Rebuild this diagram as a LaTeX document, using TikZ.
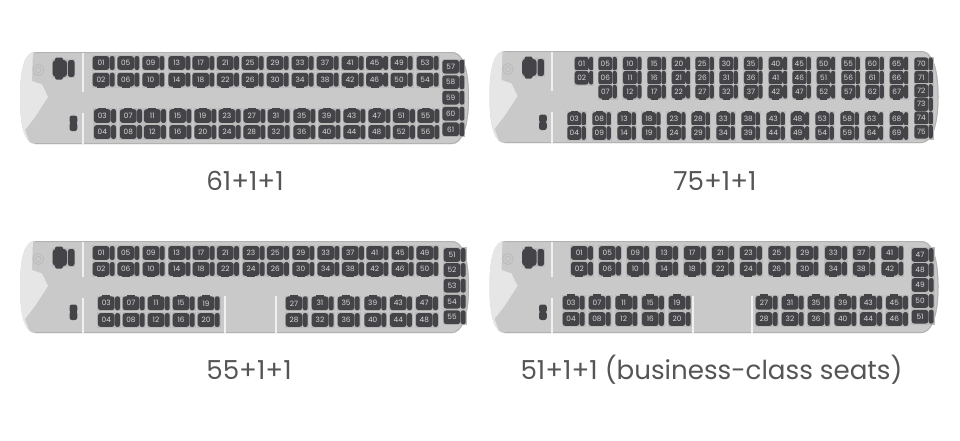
\documentclass[tikz,border=0pt]{standalone}
\usepackage{fontspec}
\setmainfont{Poppins}
\newfontfamily\capfont{Poppins}
\definecolor{bodygrey}{HTML}{C9C9C9}
\definecolor{edgegrey}{HTML}{B2B2B2}
\definecolor{frontgrey}{HTML}{E6E6E6}
\definecolor{tilegrey}{HTML}{BBBBBB}
\definecolor{seatdark}{HTML}{444448}
\definecolor{wallwhite}{HTML}{F0F0F0}
\definecolor{captext}{HTML}{555555}
\tikzset{
  x=0.75pt,y=-0.75pt,
  seatbox/.style={fill=seatdark,rounded corners=2.2pt,text=white!85!black,inner sep=0pt,
    font=\fontsize{5.5}{5.5}\selectfont,minimum width=\seatw*0.79pt,minimum height=10.4pt},
  seatback/.style={fill=seatdark,rounded corners=1.7pt},
  seattile/.style={fill=tilegrey},
  partition/.style={draw=wallwhite,line width=1.5pt},
  caption/.style={font=\capfont\fontsize{19.6}{23}\selectfont,text=captext,inner sep=0pt},
}
\newcommand{\seatw}{16}
\newcommand{\backoff}{8.7}
\newcommand{\backw}{5}
% one seat: node name, x, y, label, bump direction (-1 up, 1 down, 0 none)
\newcommand{\oneseat}[5]{%
  \fill[seattile] ({#2-\seatw/2-1},{#3-7.8}) rectangle ({#2+\backoff+\backw+0.8},{#3+7.8});
  \fill[seatback] ({#2+\backoff},{#3-7}) rectangle ({#2+\backoff+\backw},{#3+7});
  \ifnum#5=0\else
    \fill[seatdark] ({#2-\seatw/4},{#3}) rectangle ({#2+\seatw/4},{#3+#5*8.4});
  \fi
  \node[seatbox] (#1) at (#2,#3) {#4};
}
\newcommand{\seatrow}[4]{% prefix, y, bump, list x/label
  \foreach \sx/\sn in {#4} {\oneseat{#1\sn}{\sx}{#2}{\sn}{#3}}
}
\newcommand{\rearcol}[3]{% prefix, x, list y/label
  \foreach \sy/\sn in {#3} {\oneseat{#1\sn}{#2}{\sy}{\sn}{0}}
}
% bus body, drawn in the coordinates of the first bus, shifted
\newcommand{\busbody}[2]{%
\begin{scope}[shift={(#1,#2)}]
  \path[fill=bodygrey] (35,52) -- (452,52) .. controls (462,52) and (469,66) .. (469,98)
     .. controls (469,128) and (462,144) .. (452,144) -- (35,144)
     .. controls (26,144) and (20,130) .. (20,98) .. controls (20,68) and (25,52) .. (35,52) -- cycle;
  \begin{scope}
    \clip (35,52) -- (452,52) .. controls (462,52) and (469,66) .. (469,98)
     .. controls (469,128) and (462,144) .. (452,144) -- (35,144)
     .. controls (26,144) and (20,130) .. (20,98) .. controls (20,68) and (25,52) .. (35,52) -- cycle;
    \fill[frontgrey] (10,50) -- (33,50) -- (32,81) -- (42,84.5) -- (48,97) -- (35,117) -- (25,130) -- (31,146) -- (10,146) -- cycle;
    \draw[edgegrey,line width=1.5pt] (35,52) -- (452,52) .. controls (462,52) and (469,66) .. (469,98)
     .. controls (469,128) and (462,144) .. (452,144) -- (35,144);
  \end{scope}
  \draw[bodygrey!90!black,line width=0.4pt] (38.3,70) circle[radius=5.5];
  \draw[bodygrey!90!black,line width=0.3pt] (38.3,70) circle[radius=2.8];
  \fill[tilegrey] (52,59) rectangle (75,78);
  \fill[seatdark,rounded corners=2.4pt] (52.7,60) rectangle (67,77);
  \fill[seatdark,rounded corners=1pt] (55,57.5) rectangle (63,79.5);
  \fill[seatback] (68,60) rectangle (74.5,77);
  \fill[seatdark,rounded corners=1.8pt] (69.5,115.5) rectangle (77.3,123.5);
  \fill[seatdark,rounded corners=1.8pt] (69.5,122.5) rectangle (77.3,131);
  \fill[seatdark] (70.2,118) rectangle (76.6,128);
\end{scope}}
\begin{document}
\begin{tikzpicture}
\useasboundingbox[fill=white] (0,0) rectangle (960,440);

% ---------- bus 1 : 61+1+1
\busbody{0}{0}
\draw[partition] (82.7,52.5) -- (82.7,92);
\draw[partition] (82.7,113) -- (82.7,143.5);
\seatrow{a}{63}{0}{101/01,125.7/05,150.7/09,176.7/13,200.7/17,225.3/21,250/25,275/29,300/33,325/37,350/41,374.5/45,399/49,425/53}
\seatrow{a}{79.7}{1}{101/02,125.7/06,150.7/10,176.7/14,200.7/18,225.3/22,250/26,275/30,300/34,325/38,350/42,374.5/46,399/50,425/54}
\seatrow{a}{116}{-1}{102.3/03,128.3/07,152.3/11,177.7/15,202.7/19,227/23,251.7/27,276/31,301.7/35,326.7/39,351.7/43,376.7/47,401.3/51,425.7/55}
\seatrow{a}{132}{0}{102.3/04,128.3/08,152.3/12,177.7/16,202.7/20,227/24,251.7/28,276/32,301.7/36,326.7/40,351.7/44,376.7/48,401.3/52,425.7/56}
\rearcol{a}{450.7}{66.7/57,82.3/58,97.7/59,113.7/60,129.3/61}
\node[caption] (capa) at (245,181) {61+1+1};

% ---------- bus 2 : 75+1+1
\busbody{469.5}{-1}
\draw[partition] (552.2,51.5) -- (552.2,91);
\draw[partition] (552.2,112) -- (552.2,142.5);
\renewcommand{\seatw}{13.4}\renewcommand{\backoff}{7.3}\renewcommand{\backw}{4.2}
\seatrow{b}{63.7}{0}{581.7/01,605.3/05,630/10,654.3/15,678.7/20,702.3/25,726.3/30,751/35,775.7/40,799.3/45,823.7/50,848.3/55,872.3/60,896.7/65}
\seatrow{b}{77.7}{0}{581.7/02,605.3/06,630/11,654.3/16,678.7/21,702.3/26,726.3/31,751/36,775.7/41,799.3/46,823.7/51,848.3/56,872.3/61,896.7/66}
\seatrow{b}{91.7}{1}{605.3/07,630/12,654.3/17,678.7/22,702.3/27,726.3/32,751/37,775.7/42,799.3/47,823.7/52,848.3/57,872.3/62,896.7/67}
\seatrow{b}{119}{-1}{574.3/03,599.3/08,624.3/13,649/18,674/23,698.3/28,723.3/33,748.3/38,773.3/43,797.7/48,822.3/53,847.3/58,871.7/63,896.7/68}
\seatrow{b}{133}{0}{574.3/04,599.3/09,624.3/14,649/19,674/24,698.3/29,723.3/34,748.3/39,773.3/44,797.7/49,822.3/54,847.3/59,871.7/64,896.7/69}
\rearcol{b}{921.3}{64.3/70,77.7/71,91/72,104.3/73,118.3/74,131.7/75}
\node[caption] (capb) at (715,181) {75+1+1};

% ---------- bus 3 : 55+1+1
\renewcommand{\seatw}{16}\renewcommand{\backoff}{8.7}\renewcommand{\backw}{5}
\busbody{0}{189}
\draw[partition] (82.7,241.5) -- (82.7,276.7);
\draw[partition] (82.7,298) -- (82.7,332.5);
\draw[partition] (225,295.7) -- (225,332.5);
\draw[partition] (275.7,295.7) -- (275.7,332.5);
\seatrow{c}{253}{0}{101/01,125.7/05,151/09,176.7/13,201/17,225.3/21,251/23,275.3/25,300.7/29,325.7/33,350.3/37,374.7/41,400/45,424.7/49}
\seatrow{c}{269}{1}{101/02,125.7/06,151/10,176.7/14,201/18,225.3/22,251/24,275.3/26,300.7/30,325.7/34,350.3/38,374.7/42,400/46,424.7/50}
\seatrow{c}{303.3}{-1}{106.3/03,131/07,156/11,181/15,206/19,294/27,320/31,346/35,372.7/39,398.3/43,424.3/47}
\seatrow{c}{320}{0}{106.3/04,131/08,156/12,181/16,206/20,294/28,320/32,346/36,372.7/40,398.3/44,424.3/48}
\rearcol{c}{452}{255/51,270/52,285.7/53,301.7/54,317.3/55}
\node[caption] (capc) at (249,370) {55+1+1};

% ---------- bus 4 : 51+1+1
\busbody{469.5}{189}
\draw[partition] (551.7,241.5) -- (551.7,276.7);
\draw[partition] (551.7,298) -- (551.7,332.5);
\draw[partition] (693,295.7) -- (693,332.5);
\draw[partition] (751.7,295.7) -- (751.7,332.5);
\seatrow{d}{253}{0}{579.3/01,607.3/05,635.3/09,664.3/13,692.3/17,720.3/21,748.3/23,776.7/25,804.7/29,833.3/33,861.3/37,889.7/41}
\seatrow{d}{268.7}{1}{579.3/02,607.3/06,635.3/10,664.3/14,692.3/18,720.3/22,748.3/24,776.7/26,804.7/30,833.3/34,861.3/38,889.7/42}
\seatrow{d}{302.7}{-1}{571/03,597/07,623.7/11,650.3/15,677/19,764/27,790/31,816/35,842.7/39,868.3/43,894.3/45}
\seatrow{d}{319}{0}{571/04,597/08,623.7/12,650.3/16,677/20,764/28,790/32,816/36,842.7/40,868.3/44,894.3/46}
\rearcol{d}{920}{255/47,270/48,285/49,301/50,316.7/51}
\node[caption] (capd) at (711.5,370) {51+1+1 (business-class seats)};
\end{tikzpicture}
\end{document}
